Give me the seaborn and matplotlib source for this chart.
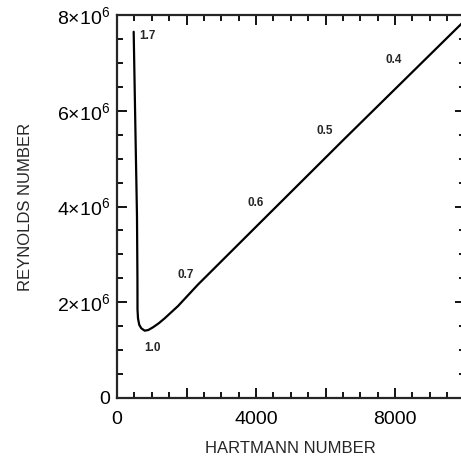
import numpy as np
import pandas as pd
import matplotlib
matplotlib.use("Agg")
import matplotlib.pyplot as plt
from matplotlib.ticker import MultipleLocator, FixedLocator, FuncFormatter
import seaborn as sns

# Data
hartmann = [480, 530, 575, 588, 590, 605, 640, 699, 797, 900, 1036, 1200, 1373, 1755,
            2331, 3923, 6513, 10000]
reynolds = [7.65e6, 5.6e6, 3.8e6, 2.5e6, 1.85e6, 1.66e6, 1.53e6, 1.456e6, 1.406e6, 1.42e6,
            1.477e6, 1.56e6, 1.665e6, 1.92e6, 2.37e6, 3.52e6, 5.39e6, 7.88e6]
ann_text = ["1.7", "1.0", "0.7", "0.6", "0.5", "0.4"]
ann_x = [890, 1020, 1985, 4000, 5985, 7970]
ann_y = [7.56e6, 1.05e6, 2.57e6, 4.07e6, 5.58e6, 7.06e6]
xtick_labels = [0, 4000, 8000]
ytick_values = [0, 2e6, 4e6, 6e6, 8e6]
ytick_labels = ["0", r"$2{\times}10^6$", r"$4{\times}10^6$", r"$6{\times}10^6$", r"$8{\times}10^6$"]

sns.set_style("ticks")
plt.rcParams["font.family"] = ["Liberation Sans", "DejaVu Sans"]
plt.rcParams["mathtext.fontset"] = "custom"
plt.rcParams["mathtext.rm"] = "Liberation Sans"
plt.rcParams["mathtext.it"] = "Liberation Sans"

fig = plt.figure(figsize=(4.61, 4.62), dpi=100)
ax = fig.add_axes([117 / 461, 64 / 462, 347.5 / 461, 383 / 462])

df = pd.DataFrame({"H": hartmann, "Re": reynolds})
sns.lineplot(data=df, x="H", y="Re", ax=ax, color="black", linewidth=1.6, sort=False)

ax.set_xlim(0, 10000)
ax.set_ylim(0, 8e6)

ax.xaxis.set_major_locator(MultipleLocator(2000))
ax.xaxis.set_minor_locator(MultipleLocator(500))
ax.yaxis.set_major_locator(FixedLocator(ytick_values))
ax.yaxis.set_minor_locator(MultipleLocator(5e5))
ax.xaxis.set_major_formatter(FuncFormatter(lambda v, p: f"{int(v)}" if int(round(v)) in xtick_labels else ""))
ax.set_yticklabels(ytick_labels)

ax.tick_params(which="both", direction="in", top=True, right=True, width=1.3, labelsize=14, colors="black")
ax.tick_params(which="major", length=7)
ax.tick_params(which="minor", length=4)
ax.tick_params(axis="x", which="major", pad=9)
ax.tick_params(axis="y", which="major", pad=5)
for s in ax.spines.values():
    s.set_linewidth(1.6)
    s.set_visible(True)

ax.set_xlabel("HARTMANN NUMBER", fontsize=12, labelpad=10)
ax.set_ylabel("REYNOLDS NUMBER", fontsize=12, labelpad=17)

for t, x, y in zip(ann_text, ann_x, ann_y):
    ax.text(x, y, t, fontsize=8.5, fontweight="bold", ha="center", va="center")

fig.savefig("out.png", dpi=100)
